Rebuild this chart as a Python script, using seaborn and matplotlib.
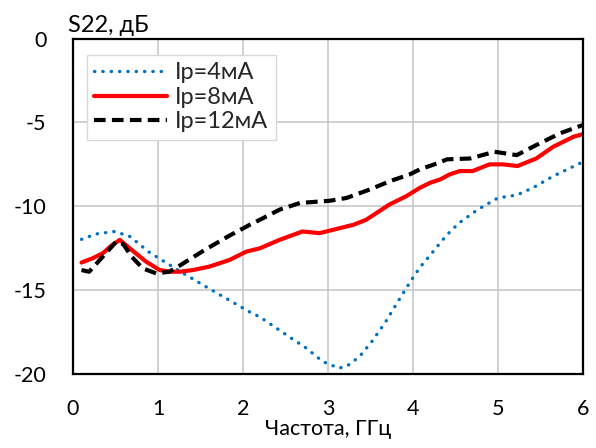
import matplotlib
matplotlib.use("Agg")
import matplotlib.pyplot as plt
import seaborn as sns
import pandas as pd

# Data
x_4 = [0.1, 0.27, 0.49, 0.67, 0.9, 1.14, 1.3, 1.6, 2.08, 2.2, 2.55, 2.73, 2.94, 3.13, 3.23, 3.37, 3.51, 3.67,
       3.82, 3.98, 4.08, 4.22, 4.39, 4.54, 4.76, 5.0, 5.22, 5.41, 5.65, 6.0]
y_4 = [-11.97, -11.65, -11.5, -11.8, -12.75, -13.5, -14.0, -14.9, -16.3, -16.6, -17.8, -18.4, -19.26, -19.65,
       -19.5, -18.96, -18.1, -16.95, -15.7, -14.4, -13.65, -12.8, -11.75, -11.0, -10.2, -9.5, -9.33, -8.9,
       -8.2, -7.35]

x_8 = [0.1, 0.23, 0.35, 0.45, 0.55, 0.69, 0.86, 1.02, 1.14, 1.25, 1.41, 1.6, 1.84, 2.04, 2.2, 2.43, 2.7, 2.9,
       3.14, 3.3, 3.45, 3.6, 3.72, 3.92, 4.08, 4.2, 4.32, 4.43, 4.55, 4.7, 4.9, 5.06, 5.23, 5.45, 5.65, 5.89, 6.0]
y_8 = [-13.35, -13.1, -12.8, -12.35, -12.0, -12.6, -13.3, -13.8, -13.9, -13.9, -13.8, -13.6, -13.2, -12.7,
       -12.5, -12.0, -11.5, -11.6, -11.3, -11.1, -10.8, -10.3, -9.9, -9.4, -8.9, -8.6, -8.4, -8.1, -7.9, -7.9,
       -7.5, -7.5, -7.6, -7.15, -6.45, -5.85, -5.7]

x_12 = [0.1, 0.19, 0.35, 0.51, 0.59, 0.69, 0.82, 0.98, 1.13, 1.25, 1.55, 1.84, 2.08, 2.2, 2.43, 2.67, 3.02,
        3.22, 3.49, 3.73, 3.96, 4.08, 4.28, 4.4, 4.67, 4.96, 5.22, 5.45, 5.73, 6.0]
y_12 = [-13.8, -13.9, -13.0, -12.1, -12.25, -13.0, -13.7, -14.0, -13.9, -13.55, -12.6, -11.75, -11.1, -10.8,
        -10.2, -9.8, -9.67, -9.5, -9.0, -8.5, -8.1, -7.8, -7.45, -7.2, -7.15, -6.75, -6.95, -6.35, -5.65, -5.15]

labels = ["Ip=4мА", "Ip=8мА", "Ip=12мА"]
x_ticks = [0, 1, 2, 3, 4, 5, 6]
y_ticks = [0, -5, -10, -15, -20]
x_label = "Частота, ГГц"
y_label = "S22, дБ"

sns.set_theme(style="white")
plt.rcParams['font.family'] = ['Lato', 'DejaVu Sans']

fig = plt.figure(figsize=(5.96, 4.48), dpi=100)
ax = fig.add_axes([0.1225, 0.165, 0.8557, 0.749])

df4 = pd.DataFrame({"x": x_4, "y": y_4})
df8 = pd.DataFrame({"x": x_8, "y": y_8})
df12 = pd.DataFrame({"x": x_12, "y": y_12})

sns.lineplot(data=df4, x="x", y="y", ax=ax, color="#0070C0", lw=2.4,
             linestyle=(0, (0.1, 2.4)), dash_capstyle="round", solid_joinstyle="round",
             label=labels[0], sort=False)
sns.lineplot(data=df8, x="x", y="y", ax=ax, color="#FF0000", lw=3.0, solid_joinstyle="round",
             solid_capstyle="round", label=labels[1], sort=False)
sns.lineplot(data=df12, x="x", y="y", ax=ax, color="black", lw=3.0,
             linestyle=(0, (2.8, 1.5)), dash_joinstyle="round", label=labels[2], sort=False)

ax.set_xlim(0, 6)
ax.set_ylim(-20, 0)
ax.set_xticks(x_ticks)
ax.set_yticks(y_ticks)
ax.set_xticklabels([str(v) for v in x_ticks])
ax.set_yticklabels([str(v) for v in y_ticks])
ax.grid(True, color="#c8c8c8", lw=1.2)
ax.tick_params(axis="both", length=0, labelsize=15.5, colors="black")
ax.tick_params(axis="x", pad=18)
ax.tick_params(axis="y", pad=19)
for s in ax.spines.values():
    s.set_color("black")
    s.set_linewidth(1.6)

ax.set_xlabel(x_label, fontsize=15.5, labelpad=0, color="black")
ax.set_ylabel("")
ax.text(-0.01, 1.008, y_label, transform=ax.transAxes, fontsize=17, ha="left", va="bottom", color="black")

leg = ax.legend(loc="upper left", bbox_to_anchor=(0.027, 0.95), fontsize=17, frameon=True,
                fancybox=False, edgecolor="#d9d9d9", framealpha=1, handlelength=3.1,
                handletextpad=0.35, borderpad=0.3, borderaxespad=0, labelspacing=0.15)
leg.get_frame().set_linewidth(1.0)
leg._legend_box.sep = 0

fig.savefig("out.png", dpi=100)
